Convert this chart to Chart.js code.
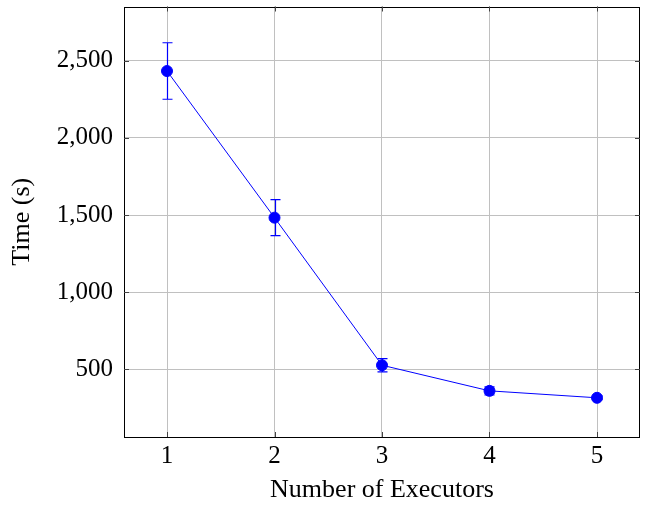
<!DOCTYPE html>
<html>
<head>
<meta charset="utf-8">
<script src="https://cdn.jsdelivr.net/npm/chart.js@4"></script>
<style>
  html, body { margin: 0; padding: 0; background: #ffffff; }
  #wrap { width: 647px; height: 506px; }
</style>
</head>
<body>
<div id="wrap"><canvas id="chart" width="647" height="506"></canvas></div>
<script>
// Values
const executors = [1, 2, 3, 4, 5];
const meanTime = [2433, 1483, 527, 361, 316];
const errTime = [183, 117, 43, 26, 12];
const yTicks = [500, 1000, 1500, 2000, 2500];

const serif = "'Liberation Serif', 'DejaVu Serif', serif";

// Draws the vertical error bars with caps
const errorBars = {
    id: 'errorBars',
    afterDatasetsDraw(chart) {
        const ctx = chart.ctx;
        const xs = chart.scales.x;
        const ys = chart.scales.y;
        ctx.save();
        ctx.strokeStyle = '#0000ff';
        ctx.lineWidth = 1.2;
        executors.forEach((ex, i) => {
            const px = Math.round(xs.getPixelForValue(ex)) + 0.5;
            const top = ys.getPixelForValue(meanTime[i] + errTime[i]);
            const bot = ys.getPixelForValue(meanTime[i] - errTime[i]);
            ctx.beginPath();
            ctx.moveTo(px, top);
            ctx.lineTo(px, bot);
            ctx.moveTo(px - 5, top);
            ctx.lineTo(px + 5, top);
            ctx.moveTo(px - 5, bot);
            ctx.lineTo(px + 5, bot);
            ctx.stroke();
        });
        ctx.restore();
    }
};

// Black frame plus small inward ticks, like pgfplots
const frame = {
    id: 'frame',
    afterDraw(chart) {
        const ctx = chart.ctx;
        const a = chart.chartArea;
        const xs = chart.scales.x;
        const ys = chart.scales.y;
        ctx.save();
        ctx.strokeStyle = '#000000';
        ctx.lineWidth = 1;
        ctx.strokeRect(Math.round(a.left) + 0.5, Math.round(a.top) + 0.5,
            Math.round(a.right - a.left) - 1, Math.round(a.bottom - a.top) - 1);
        ctx.strokeStyle = '#444444';
        ctx.beginPath();
        executors.forEach(v => {
            const px = Math.round(xs.getPixelForValue(v)) + 0.5;
            ctx.moveTo(px, a.bottom);
            ctx.lineTo(px, a.bottom - 5);
            ctx.moveTo(px, a.top);
            ctx.lineTo(px, a.top + 5);
        });
        yTicks.forEach(v => {
            const py = Math.round(ys.getPixelForValue(v)) + 0.5;
            ctx.moveTo(a.left, py);
            ctx.lineTo(a.left + 5, py);
            ctx.moveTo(a.right, py);
            ctx.lineTo(a.right - 5, py);
        });
        ctx.stroke();
        ctx.restore();
    }
};

const ctx = document.getElementById('chart').getContext('2d');
new Chart(ctx, {
    type: 'line',
    data: {
        datasets: [{
            data: executors.map((x, i) => ({ x: x, y: meanTime[i] })),
            borderColor: '#0000ff',
            backgroundColor: '#0000ff',
            borderWidth: 1,
            pointRadius: 5.5,
            pointBackgroundColor: '#0000ff',
            pointBorderColor: '#0000ff',
            tension: 0
        }]
    },
    options: {
        responsive: false,
        animation: false,
        layout: { padding: { top: 6, right: 7, left: 0, bottom: 0 } },
        plugins: {
            legend: { display: false },
            tooltip: { enabled: false }
        },
        scales: {
            x: {
                type: 'linear',
                min: 0.6,
                max: 5.4,
                afterBuildTicks: axis => { axis.ticks = executors.map(v => ({ value: v })); },
                afterFit: axis => { axis.height = 69; axis.paddingLeft = 0; axis.paddingRight = 0; },
                grid: { color: '#c0c0c0', drawTicks: false },
                border: { display: false },
                ticks: {
                    color: '#000000',
                    padding: 4,
                    font: { family: serif, size: 25 }
                },
                title: {
                    display: true,
                    text: 'Number of Executors',
                    color: '#000000',
                    padding: { top: 0, bottom: 0 },
                    font: { family: serif, size: 26 }
                }
            },
            y: {
                min: 62,
                max: 2851,
                afterBuildTicks: axis => { axis.ticks = yTicks.map(v => ({ value: v })); },
                afterFit: axis => { axis.width = 124; axis.paddingTop = 0; axis.paddingBottom = 0; },
                grid: { color: '#c0c0c0', drawTicks: false },
                border: { display: false },
                ticks: {
                    color: '#000000',
                    padding: 11,
                    font: { family: serif, size: 25 }
                },
                title: {
                    display: true,
                    text: 'Time (s)',
                    color: '#000000',
                    padding: { top: 7, bottom: 0 },
                    font: { family: serif, size: 26 }
                }
            }
        }
    },
    plugins: [errorBars, frame]
});
</script>
</body>
</html>
